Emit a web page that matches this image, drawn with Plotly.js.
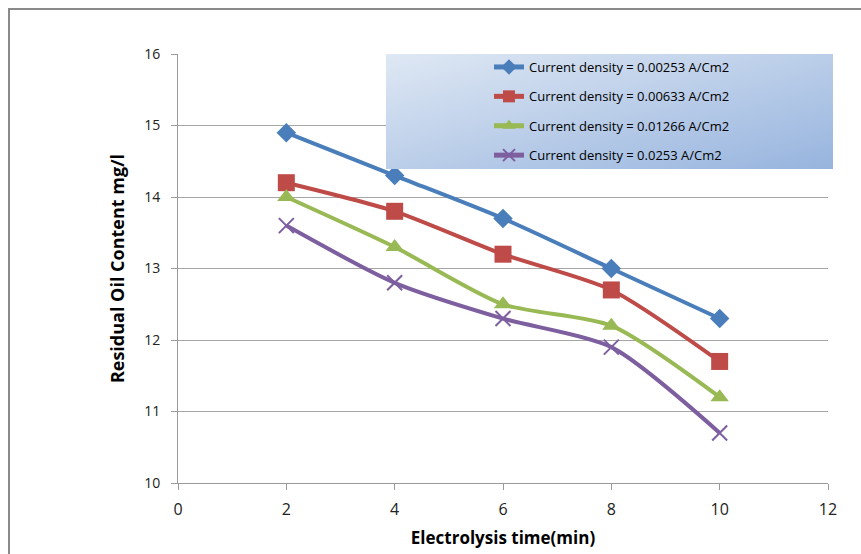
<!DOCTYPE html>
<html><head><meta charset="utf-8">
<script src="https://cdn.plot.ly/plotly-3.0.1.min.js"></script>
<style>html,body{margin:0;padding:0;background:#fff}#chart{width:861px;height:554px}</style>
</head><body><div id="chart"></div>
<script>
const times = [2, 4, 6, 8, 10];
const seriesNames = [
  "Current density = 0.00253 A/Cm2",
  "Current density = 0.00633 A/Cm2",
  "Current density = 0.01266 A/Cm2",
  "Current density = 0.0253 A/Cm2"
];
const cd00253 = [14.9, 14.3, 13.7, 13.0, 12.3];
const cd00633 = [14.2, 13.8, 13.2, 12.7, 11.7];
const cd01266 = [14.0, 13.3, 12.5, 12.2, 11.2];
const cd0253  = [13.6, 12.8, 12.3, 11.9, 10.7];
const xTicks = [0, 2, 4, 6, 8, 10, 12];
const yTicks = [10, 11, 12, 13, 14, 15, 16];

const colors = ["#4A7EBB", "#BE4B48", "#98B954", "#7D5FA0"];
const symbols = ["diamond", "square", "triangle-up", "x-thin-open"];
const sizes = [15, 17, 16, 15];
const vals = [cd00253, cd00633, cd01266, cd0253];

const traces = vals.map((v, i) => ({
  x: times, y: v, name: seriesNames[i], type: "scatter", mode: "lines+markers",
  legendgroup: "g" + i,
  line: {color: colors[i], width: 4, shape: "spline", smoothing: 0.7},
  marker: {symbol: symbols[i], size: sizes[i], color: colors[i],
           line: {color: colors[i], width: i === 3 ? 2 : 0}}
}));

const gradSvg = '<svg xmlns="http://www.w3.org/2000/svg" width="447" height="115">' +
  '<defs><linearGradient id="g" x1="0" y1="0" x2="1" y2="1">' +
  '<stop offset="0" stop-color="#dfe8f4"/><stop offset="1" stop-color="#97b4de"/></linearGradient></defs>' +
  '<rect width="447" height="115" fill="url(#g)"/></svg>';
const gradUri = "data:image/svg+xml;base64," + btoa(gradSvg);

const L = 178, R = 33, T = 54, B = 71, W = 861, H = 554;
const pw = W - L - R, ph = H - T - B;
const px = x => (x - L) / pw;
const py = y => (H - B - y) / ph;

const layout = {
  width: W, height: H,
  margin: {l: L, r: R, t: T, b: B},
  paper_bgcolor: "#ffffff", plot_bgcolor: "#ffffff",
  font: {family: "Open Sans, Liberation Sans, sans-serif", color: "#000"},
  showlegend: true,
  legend: {
    x: px(489), y: py(52), xanchor: "left", yanchor: "top",
    bgcolor: "rgba(0,0,0,0)", borderwidth: 0, itemsizing: "constant",
    font: {size: 13, family: "Open Sans, sans-serif", color: "#000"},
    tracegroupgap: 9.5
  },
  xaxis: {
    range: [0, 12], tickvals: xTicks, ticktext: xTicks.map(String),
    showgrid: false, zeroline: false, showline: true, linecolor: "#9a9a9a", linewidth: 1,
    ticks: "outside", ticklen: 6, tickcolor: "#9a9a9a", ticklabelstandoff: 6,
    tickfont: {size: 16, family: "Open Sans, sans-serif", color: "#222"},
    title: {text: "<b>Electrolysis time(min)</b>", font: {size: 17, family: "Open Sans, sans-serif", color: "#000"}, standoff: 12}
  },
  yaxis: {
    range: [10, 16], tickvals: yTicks, ticktext: yTicks.map(String),
    showgrid: true, gridcolor: "#a6a6a6", gridwidth: 1, zeroline: false,
    showline: true, linecolor: "#9a9a9a", linewidth: 1,
    ticks: "outside", ticklen: 6, tickcolor: "#9a9a9a", ticklabelstandoff: 8,
    tickfont: {size: 14, family: "Open Sans, sans-serif", color: "#222"},
    title: {text: "<b>Residual Oil Content mg/l</b>", font: {size: 18, family: "Open Sans, sans-serif", color: "#000"}, standoff: 14}
  },
  images: [{
    source: gradUri, xref: "paper", yref: "paper",
    x: px(386), y: py(54), sizex: 447 / pw, sizey: 115 / ph,
    xanchor: "left", yanchor: "top", sizing: "stretch", layer: "above"
  }],
  shapes: [{
    type: "rect", xref: "paper", yref: "paper",
    x0: px(9), x1: px(900), y0: py(600), y1: py(9),
    line: {color: "#8a8a8a", width: 2}, fillcolor: "rgba(0,0,0,0)"
  }]
};

Plotly.newPlot("chart", traces, layout, {displayModeBar: false, staticPlot: true});
</script>
</body></html>
